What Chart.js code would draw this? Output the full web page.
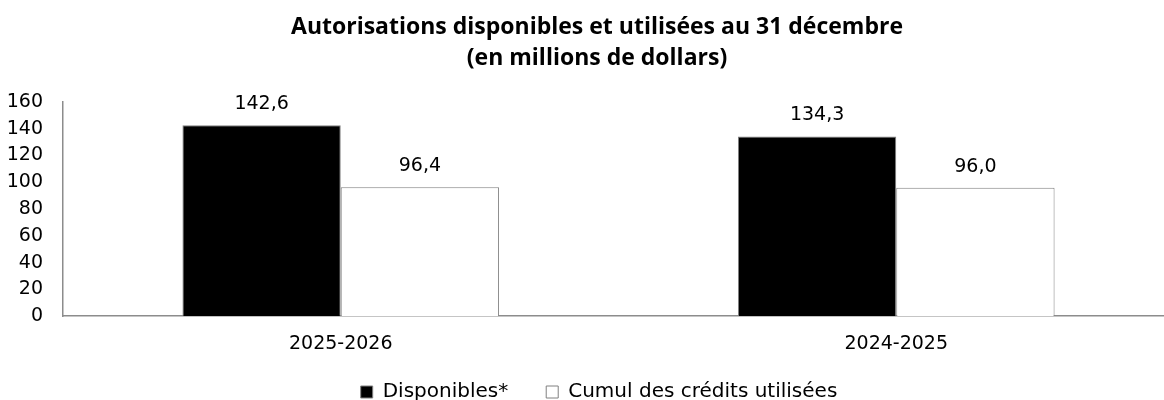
<!DOCTYPE html>
<html><head><meta charset="utf-8">
<script src="https://cdn.jsdelivr.net/npm/chart.js@4.4.0/dist/chart.umd.min.js"></script>
<style>html,body{margin:0;padding:0;background:#fff;overflow:hidden;width:1164px;height:400px}#wrap{width:1174px;height:400px}</style>
</head><body><div id="wrap"><canvas id="c" width="1174" height="400"></canvas></div>
<script>
const categories = ["2025-2026", "2024-2025"];
const disponibles = [142.6, 134.3];
const cumul = [96.4, 96.0];
const seriesNames = ["Disponibles*", "Cumul des crédits utilisées"];
const titleLines = ["Autorisations disponibles et utilisées au 31 décembre", "(en millions de dollars)"];
const yTicks = [0, 20, 40, 60, 80, 100, 120, 140, 160];

const fmt = v => v.toFixed(1).replace('.', ',');
const numFont = '"DejaVu Sans", sans-serif';

const labelPlugin = {
  id: 'vals',
  afterDatasetsDraw(chart) {
    const ctx = chart.ctx;
    ctx.save();
    ctx.font = '19px ' + numFont;
    ctx.fillStyle = '#000';
    ctx.textAlign = 'center';
    ctx.textBaseline = 'middle';
    chart.data.datasets.forEach((ds, i) => {
      chart.getDatasetMeta(i).data.forEach((bar, j) => {
        ctx.fillText(fmt(ds.data[j]), bar.x, bar.y - 21);
      });
    });
    ctx.restore();
  }
};

const boxShift = {
  id: 'boxShift',
  afterLayout(chart) {
    if (chart.titleBlock) { chart.titleBlock.left += 10; chart.titleBlock.right += 10; }
    if (chart.legend) {
      chart.legend.top -= 27; chart.legend.bottom -= 27;
      chart.legend.left += 12; chart.legend.right += 12;
    }
  }
};

new Chart(document.getElementById('c'), {
  type: 'bar',
  data: {
    labels: categories,
    datasets: [
      { label: seriesNames[0], data: disponibles, backgroundColor: '#000', borderColor: '#808080', borderWidth: 1 },
      { label: seriesNames[1], data: cumul, backgroundColor: '#fff', borderColor: '#808080', borderWidth: 1 }
    ]
  },
  options: {
    responsive: false,
    animation: false,
    devicePixelRatio: 1,
    categoryPercentage: 0.57,
    barPercentage: 1,
    layout: { padding: { left: 0, right: 0, top: 0, bottom: -39 } },
    plugins: {
      title: {
        display: true,
        text: titleLines,
        color: '#000',
        font: { family: '"Open Sans"', weight: 'bold', size: 23, lineHeight: 31 / 23 },
        padding: { top: 12, bottom: 28 }
      },
      legend: {
        position: 'bottom',
        labels: {
          color: '#000',
          font: { family: numFont, size: 20 },
          boxWidth: 12, boxHeight: 12,
          padding: 38
        }
      },
      tooltip: { enabled: false }
    },
    scales: {
      x: {
        grid: { display: false, drawTicks: false },
        border: { display: true, color: '#8c8c8c', width: 1.5 },
        ticks: { color: '#000', font: { family: numFont, size: 19 }, padding: 16 }
      },
      y: {
        min: 0, max: 160,
        afterBuildTicks(s) { s.ticks = yTicks.map(v => ({ value: v })); },
        grid: { display: false, drawTicks: false },
        border: { display: true, color: '#8c8c8c', width: 1.5 },
        ticks: { color: '#000', font: { family: numFont, size: 19 }, padding: 20, autoSkip: false },
        afterFit(s) { s.width = 63; }
      }
    }
  },
  plugins: [labelPlugin, boxShift]
});
</script></body></html>
